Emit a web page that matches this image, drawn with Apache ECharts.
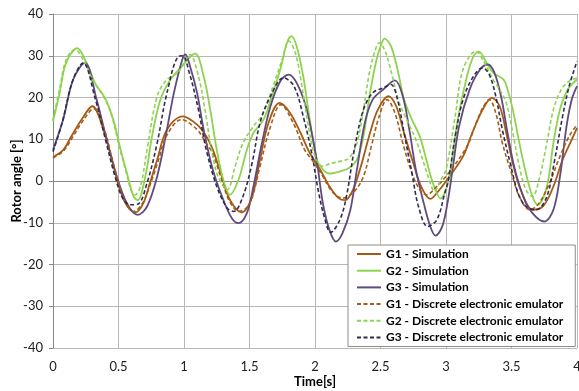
<!DOCTYPE html>
<html>
<head>
<meta charset="utf-8">
<script src="https://cdn.jsdelivr.net/npm/echarts@6/dist/echarts.min.js"></script>
<style>
html,body{margin:0;padding:0;background:#fff;}
#chart{width:579px;height:391px;}
</style>
</head>
<body>
<div id="chart"></div>
<script>
var seriesNames = ['G1 - Simulation','G2 - Simulation','G3 - Simulation',
  'G1 - Discrete electronic emulator','G2 - Discrete electronic emulator','G3 - Discrete electronic emulator'];
var xTicks = [0,0.5,1,1.5,2,2.5,3,3.5,4];
var yTicks = [-40,-30,-20,-10,0,10,20,30,40];

var g1Sim = [[0,5.7],[0.08,7.5],[0.14,10.7],[0.22,14.8],[0.3,17.9],[0.385,12.3],[0.45,5.1],[0.49,0.3],[0.54,-4.5],[0.59,-6.9],[0.63,-7.5],[0.69,-5.3],[0.74,-0.5],[0.795,5.1],[0.87,12.3],[0.99,15.5],[1.1,13.5],[1.17,10.7],[1.22,7.5],[1.28,1.9],[1.35,-4.5],[1.44,-7.5],[1.52,-3.7],[1.58,5.1],[1.645,13.9],[1.73,18.7],[1.81,16.3],[1.89,11.5],[1.96,6.7],[2.04,2.7],[2.11,-1.3],[2.18,-4.1],[2.23,-4.6],[2.29,-2.1],[2.35,3.5],[2.42,11.5],[2.48,17.1],[2.56,20.3],[2.62,17.9],[2.68,11.5],[2.75,4.3],[2.81,-1.3],[2.88,-4.3],[2.95,-2.1],[3.02,0.8],[3.13,5.9],[3.2,11.5],[3.28,17.1],[3.35,19.9],[3.41,17.9],[3.46,11.5],[3.51,4.3],[3.57,-2.1],[3.66,-6.9],[3.74,-6.1],[3.82,-1.3],[3.89,5.1],[3.96,9.9],[4.0,12.7]];
var g2Sim = [[0,14.3],[0.05,21],[0.1,28.3],[0.185,31.8],[0.256,28.3],[0.32,23.5],[0.397,19.9],[0.46,14.7],[0.51,8.3],[0.564,1.9],[0.615,-3.7],[0.646,-4.6],[0.705,1.1],[0.756,10.7],[0.82,19.5],[0.897,24.3],[0.974,27.1],[1.084,30.5],[1.15,25.1],[1.2,17.1],[1.25,7.5],[1.3,0.3],[1.35,-3.3],[1.416,0.3],[1.48,7.5],[1.53,11.5],[1.607,14.7],[1.67,20.3],[1.735,26.7],[1.786,33.1],[1.82,34.7],[1.86,32.3],[1.91,25.1],[1.96,14.7],[2.015,5.1],[2.06,2.7],[2.11,1.8],[2.19,2.3],[2.26,3.1],[2.32,5.1],[2.37,10.7],[2.42,21.1],[2.47,29.1],[2.51,33.1],[2.53,34.1],[2.58,32.3],[2.63,26.7],[2.68,19.5],[2.74,14.7],[2.8,10.7],[2.85,5.1],[2.9,-0.5],[2.96,-4.2],[3.0,-2],[3.03,1.9],[3.09,14.7],[3.16,25.1],[3.21,29.9],[3.25,31],[3.31,28.3],[3.36,25.9],[3.44,24.3],[3.47,21.9],[3.51,17.1],[3.56,9.1],[3.61,1.9],[3.66,-3.7],[3.7,-5.7],[3.77,-1.3],[3.82,9.1],[3.87,17.1],[3.93,21.9],[4.0,24.3]];
var g3Sim = [[0,7.5],[0.077,14.7],[0.154,24.3],[0.244,28.3],[0.333,19.5],[0.41,9.9],[0.487,1.1],[0.564,-5.3],[0.646,-8.1],[0.718,-6.1],[0.795,1.1],[0.86,10.7],[0.923,21.1],[0.987,29.1],[1.01,30.3],[1.046,27.5],[1.1,21.1],[1.15,12.3],[1.22,2.7],[1.3,-4.5],[1.365,-8.9],[1.416,-10.1],[1.48,-7.7],[1.53,-1.3],[1.595,9.1],[1.66,17.9],[1.735,23.9],[1.8,25.5],[1.86,23.5],[1.93,17.9],[1.99,9.1],[2.02,3.5],[2.06,-5.3],[2.11,-11.7],[2.16,-14.5],[2.21,-12.5],[2.27,-6.9],[2.32,2.7],[2.38,13.9],[2.44,19.5],[2.52,21.9],[2.61,24.1],[2.67,20.3],[2.72,12.3],[2.77,2.7],[2.83,-5.3],[2.88,-10.9],[2.92,-13.1],[2.97,-11],[3.01,-5.5],[3.05,2.7],[3.1,13.1],[3.18,21.9],[3.26,26.7],[3.32,27.9],[3.37,25.9],[3.42,20.3],[3.47,11.5],[3.52,3.5],[3.59,-3.7],[3.66,-7.7],[3.75,-9.7],[3.82,-6.9],[3.87,1.1],[3.92,13.1],[3.96,19.5],[4.0,22.7]];
var g1Emu = [[0,5.5],[0.08,7.2],[0.15,10.5],[0.23,14.5],[0.31,17.3],[0.39,12.5],[0.45,5.5],[0.5,-0.5],[0.55,-5],[0.615,-7.3],[0.68,-5.5],[0.74,-1],[0.8,4.5],[0.87,11],[0.98,14.7],[1.1,12.3],[1.16,9.5],[1.22,6.5],[1.28,1],[1.35,-5],[1.42,-7.3],[1.5,-5.5],[1.58,3.5],[1.65,12],[1.74,18.3],[1.84,13.5],[1.92,7.5],[1.99,4.5],[2.06,1.1],[2.13,-2.5],[2.21,-4.1],[2.3,-2.5],[2.37,1.1],[2.43,8.3],[2.49,15.5],[2.55,19.5],[2.61,16.3],[2.67,9.1],[2.74,1.9],[2.8,-2.1],[2.85,-3.3],[2.93,-1.3],[3.02,1.9],[3.16,8.3],[3.23,13.9],[3.28,17.5],[3.33,19.5],[3.38,16.3],[3.43,9.1],[3.5,1.9],[3.56,-3.7],[3.64,-6.9],[3.71,-5.3],[3.79,-0.5],[3.87,5.9],[3.94,10.7],[4.0,13.5]];
var g2Emu = [[0,14.7],[0.05,22],[0.1,29],[0.167,31.5],[0.24,28.5],[0.31,23.8],[0.39,20],[0.45,15.5],[0.5,9],[0.555,2.5],[0.6,-2.5],[0.628,-3.3],[0.67,-1],[0.718,7.5],[0.795,20.3],[0.87,24.3],[0.95,25.9],[1.0,28.3],[1.046,30.3],[1.11,25.1],[1.16,17.1],[1.21,7.5],[1.26,1.1],[1.33,-2.1],[1.39,3.5],[1.45,9.1],[1.53,13.1],[1.6,16],[1.68,22.7],[1.75,29.1],[1.8,33.5],[1.85,30.7],[1.9,22.7],[1.95,13.1],[2.0,5.9],[2.06,3.5],[2.11,4.1],[2.19,4.7],[2.26,5.5],[2.32,9.1],[2.37,17.1],[2.42,26.7],[2.47,32.3],[2.49,33.1],[2.54,30.7],[2.59,25.1],[2.64,19],[2.7,14.7],[2.77,9.9],[2.83,4.3],[2.88,-0.5],[2.91,-2.5],[2.96,0.3],[3.0,2.7],[3.07,15.5],[3.13,26.7],[3.23,31.1],[3.29,28.5],[3.36,24.3],[3.41,21.9],[3.46,18.7],[3.51,11.5],[3.56,3.5],[3.61,-2.1],[3.66,-3.7],[3.71,0.3],[3.77,9.1],[3.82,17.1],[3.88,21.9],[3.94,23.9],[4.0,24.7]];
var g3Emu = [[0,7],[0.07,14],[0.15,24],[0.23,28.3],[0.32,20],[0.4,10],[0.47,1.5],[0.53,-4],[0.59,-5.7],[0.65,-5.5],[0.718,-0.5],[0.795,9.1],[0.87,21.1],[0.96,29.9],[0.99,30],[1.04,26],[1.11,17.1],[1.17,7.5],[1.25,-1.3],[1.33,-6.5],[1.38,-7.3],[1.45,-3.7],[1.52,4.3],[1.58,13.9],[1.66,20.3],[1.76,24.7],[1.84,22.7],[1.91,15.5],[1.98,5.9],[2.02,-1.5],[2.07,-8.5],[2.12,-12.3],[2.19,-9.3],[2.24,-3.7],[2.3,7.5],[2.37,17.1],[2.44,21.1],[2.52,22.3],[2.58,23.1],[2.63,19.5],[2.68,11.5],[2.74,1.9],[2.79,-6.1],[2.86,-10.9],[2.93,-9.3],[2.99,-3],[3.02,0.5],[3.07,10.7],[3.13,19.5],[3.21,25.1],[3.28,27.1],[3.33,25.5],[3.38,20.3],[3.43,12.3],[3.49,4.3],[3.55,-2.9],[3.61,-6.1],[3.69,-6.9],[3.77,-3.7],[3.83,5.1],[3.89,15.5],[3.94,22.7],[4.0,28.7]];

var colors = ['#A85A14','#8ED34E','#614A7D','#A85A14','#8ED34E','#2E2A50'];
var allData = [g1Sim,g2Sim,g3Sim,g1Emu,g2Emu,g3Emu];

var chart = echarts.init(document.getElementById('chart'), null, {renderer:'canvas'});
var FONT = 'Lato';
var series = allData.map(function(d,i){
  var dashed = i >= 3;
  return {
    name: seriesNames[i], type:'line', data:d, smooth:0.35, symbol:'none',
    lineStyle:{color:colors[i], width: dashed?1.6:1.8, type: dashed?[4,2.5]:'solid'},
    itemStyle:{color:colors[i]}, animation:false, z: dashed?3:2
  };
});
chart.setOption({
  animation:false,
  backgroundColor:'#fff',
  grid:{left:53, right:2, top:14, bottom:43, containLabel:false, outerBoundsMode:'none'},
  xAxis:{type:'value', min:0, max:4, interval:0.5,
    name:'Time[s]', nameLocation:'middle', nameGap:27, nameMoveOverlap:false,
    nameTextStyle:{fontFamily:FONT, fontWeight:'bold', fontSize:13, color:'#000'},
    axisLine:{show:true, lineStyle:{color:'#868686', width:1}},
    axisTick:{show:false},
    axisLabel:{fontFamily:FONT, fontSize:13, color:'#222', margin:12, hideOverlap:false,
      formatter:function(v){return String(v);}},
    splitLine:{show:true, lineStyle:{color:'#b8b8b8', width:1}}},
  yAxis:{type:'value', min:-40, max:40, interval:10,
    name:'Rotor angle [°]', nameLocation:'middle', nameGap:30, nameMoveOverlap:false,
    nameTextStyle:{fontFamily:FONT, fontWeight:'bold', fontSize:13, color:'#000'},
    axisLine:{show:true, onZero:false, lineStyle:{color:'#868686', width:1}},
    axisTick:{show:true, length:4, lineStyle:{color:'#868686'}},
    axisLabel:{fontFamily:FONT, fontSize:13, color:'#222', margin:10},
    splitLine:{show:true, lineStyle:{color:'#b8b8b8', width:1}}},
  legend:{orient:'vertical', left:348, top:245, data:seriesNames,
    itemWidth:24, itemHeight:12, itemGap:4.7,
    padding:[3,12,3,8],
    itemStyle:{color:'rgba(0,0,0,0)', borderWidth:0, opacity:0},
    backgroundColor:'#fff', borderColor:'#8c8c8c', borderWidth:1, borderRadius:0,
    textStyle:{fontFamily:FONT, fontWeight:'bold', fontSize:12, color:'#000'}},
  series: series
});
</script>
</body>
</html>
